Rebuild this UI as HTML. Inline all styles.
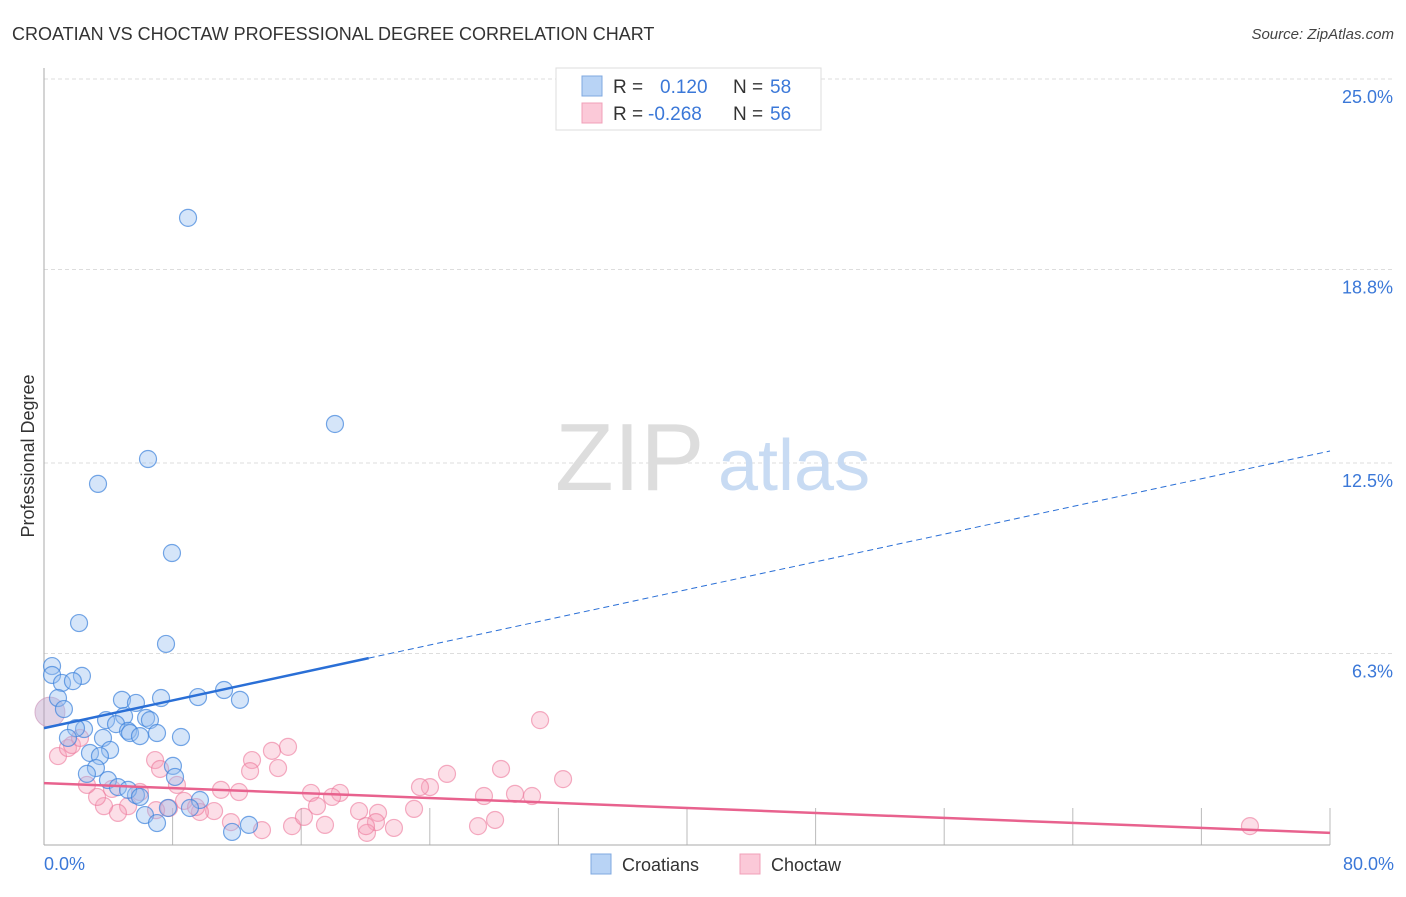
<!DOCTYPE html>
<html><head><meta charset="utf-8"><style>
body{margin:0;background:#fff;font-family:"Liberation Sans",sans-serif;}
svg text{font-family:"Liberation Sans",sans-serif;}
</style></head><body>
<svg id="chart" width="1406" height="892" xmlns="http://www.w3.org/2000/svg">
<text x="12" y="40" font-size="18" fill="#333">CROATIAN VS CHOCTAW PROFESSIONAL DEGREE CORRELATION CHART</text>
<text x="1394" y="39" font-size="15" fill="#444" text-anchor="end" font-style="italic">Source: ZipAtlas.com</text>
<text x="34" y="456" font-size="18" fill="#333" transform="rotate(-90 34 456)" text-anchor="middle">Professional Degree</text>
<g id="grid"></g>
<g id="yticks"></g>
<g id="xticks"></g>
<text x="555" y="490" font-size="96" fill="#ddd" font-family="Liberation Serif">ZIP</text>
<text x="718" y="490" font-size="72" fill="#c8dbf3">atlas</text>
<line x1="44" y1="68" x2="44" y2="845" stroke="#aaa"/>
<line x1="44" y1="845" x2="1330" y2="845" stroke="#aaa"/>
<g id="pink"></g>
<g id="blue"></g>
<g id="trends"></g>
<text x="44" y="870" font-size="18" fill="#3b78d8">0.0%</text>
<text x="1394" y="870" font-size="18" fill="#3b78d8" text-anchor="end">80.0%</text>
<g>
<rect x="556" y="68" width="265" height="62" fill="#fff" stroke="#ddd"/>
<rect x="582" y="76" width="20" height="20" fill="#b8d3f5" stroke="#7fa8e0"/>
<rect x="582" y="103" width="20" height="20" fill="#fbc9d8" stroke="#f0a0b8"/>
<text x="613" y="93" font-size="19" fill="#333">R = </text><text x="660" y="93" font-size="19" fill="#3b78d8">0.120</text>
<text x="733" y="93" font-size="19" fill="#333">N = </text><text x="770" y="93" font-size="19" fill="#3b78d8">58</text>
<text x="613" y="120" font-size="19" fill="#333">R = </text><text x="648" y="120" font-size="19" fill="#3b78d8">-0.268</text>
<text x="733" y="120" font-size="19" fill="#333">N = </text><text x="770" y="120" font-size="19" fill="#3b78d8">56</text>
</g>
<g>
<rect x="591" y="854" width="20" height="20" fill="#b8d3f5" stroke="#7fa8e0"/>
<text x="622" y="871" font-size="18" fill="#333">Croatians</text>
<rect x="740" y="854" width="20" height="20" fill="#fbc9d8" stroke="#f0a0b8"/>
<text x="771" y="871" font-size="18" fill="#333">Choctaw</text>
</g>
</svg>
<script>
const yTicks=[6.3,12.5,18.8,25.0];
const yTickLabels=["6.3%","12.5%","18.8%","25.0%"];
const xTicks=[8,16,24,32,40,48,56,64,72,80];
const blueX=[8.96,18.10,6.47,3.36,7.96,2.18,7.59,0.50,0.50,1.12,2.36,1.80,0.87,1.24,4.85,5.72,7.28,9.58,11.20,12.19,4.98,6.35,6.59,3.86,4.48,5.23,5.35,2.49,1.99,1.49,3.67,5.97,7.03,8.52,4.11,2.86,3.48,3.23,2.67,8.02,8.15,3.98,4.60,5.72,5.23,5.97,9.70,9.08,7.71,6.28,7.03,11.70,12.75];
const blueY=[20.48,13.77,12.63,11.82,9.57,7.29,6.61,5.89,5.60,5.34,5.57,5.40,4.85,4.49,4.79,4.69,4.85,4.88,5.11,4.79,4.26,4.20,4.13,4.13,4.00,3.78,3.71,3.84,3.87,3.55,3.55,3.61,3.71,3.58,3.16,3.06,2.96,2.57,2.38,2.64,2.28,2.18,1.95,1.69,1.86,1.63,1.53,1.27,1.27,1.04,0.78,0.49,0.72];
const pinkX=[30.86,15.18,14.18,12.94,12.82,14.56,6.91,7.22,8.27,28.43,32.29,25.07,24.01,23.39,16.61,18.41,17.92,16.98,12.13,11.01,27.37,29.30,30.36,75.02,23.02,20.78,19.60,20.65,21.77,20.09,20.03,17.48,15.43,13.56,11.63,10.58,9.70,8.71,7.78,6.97,5.23,4.60,3.73,3.30,2.67,0.87,1.49,1.74,2.24,4.23,5.97,9.46,27.00,28.06,16.17];
const pinkY=[4.13,3.26,3.13,2.83,2.47,2.57,2.83,2.54,2.02,2.54,2.21,2.38,1.95,1.95,1.76,1.76,1.63,1.33,1.79,1.86,1.66,1.73,1.66,0.68,1.24,1.11,1.17,0.81,0.62,0.46,0.68,0.72,0.68,0.55,0.81,1.17,1.14,1.50,1.27,1.20,1.33,1.11,1.33,1.63,2.02,2.96,3.22,3.32,3.55,1.89,1.79,1.30,0.68,0.88,0.98];
const blueTrend=[3.87,12.89];
const pinkTrend=[2.08,0.46];
const bigBlue=[0.37,4.39];
const NS="http://www.w3.org/2000/svg";
const sx=v=>44+v/80*1286, sy=v=>847-v*30.72;
function mk(t,a,p){const e=document.createElementNS(NS,t);for(const k in a)e.setAttribute(k,a[k]);p.appendChild(e);return e;}
const grid=document.getElementById('grid'),yt=document.getElementById('yticks'),xt=document.getElementById('xticks');
yTicks.forEach((v,i)=>{
 const l=mk('line',{x1:44,x2:1394,y1:sy(v),y2:sy(v),stroke:'#ddd','stroke-dasharray':'4,3'},grid);
 
 
 const t=mk('text',{x:1393,y:sy(v)+24,'font-size':18,fill:'#3b78d8','text-anchor':'end'},yt);t.textContent=yTickLabels[i];
 
 
});
xTicks.forEach(v=>{
 const l=mk('line',{x1:sx(v),x2:sx(v),y1:808,y2:845,stroke:'#bbb'},xt);
 
 
});
const pg=document.getElementById('pink'),bg=document.getElementById('blue');
pinkX.forEach((x,i)=>{
 const c=mk('circle',{cx:sx(x),cy:sy(pinkY[i]),r:8.5,fill:'rgba(246,160,185,0.35)',stroke:'rgba(236,120,155,0.6)','stroke-width':1.2},pg);
 
 
});
const bc=mk('circle',{cx:sx(bigBlue[0]),cy:sy(bigBlue[1]),r:15,fill:'rgba(190,160,200,0.45)',stroke:'rgba(200,140,180,0.6)'},bg);


blueX.forEach((x,i)=>{
 const c=mk('circle',{cx:sx(x),cy:sy(blueY[i]),r:8.5,fill:'rgba(150,190,240,0.4)',stroke:'rgba(60,130,220,0.7)','stroke-width':1.2},bg);
 
 
});
const tg=document.getElementById('trends');
const bt=v=>blueTrend[0]+(blueTrend[1]-blueTrend[0])*v/80, pt=v=>pinkTrend[0]+(pinkTrend[1]-pinkTrend[0])*v/80;
let l1=mk('line',{x1:sx(0),y1:sy(bt(0)),x2:sx(20.2),y2:sy(bt(20.2)),stroke:'#2a6fd6','stroke-width':2.5},tg);


let l2=mk('line',{x1:sx(20.2),y1:sy(bt(20.2)),x2:sx(80),y2:sy(bt(80)),stroke:'#2a6fd6','stroke-width':1,'stroke-dasharray':'6,4'},tg);


let l3=mk('line',{x1:sx(0),y1:sy(pt(0)),x2:sx(80),y2:sy(pt(80)),stroke:'#e8628e','stroke-width':2.5},tg);


</script>
</body></html>
